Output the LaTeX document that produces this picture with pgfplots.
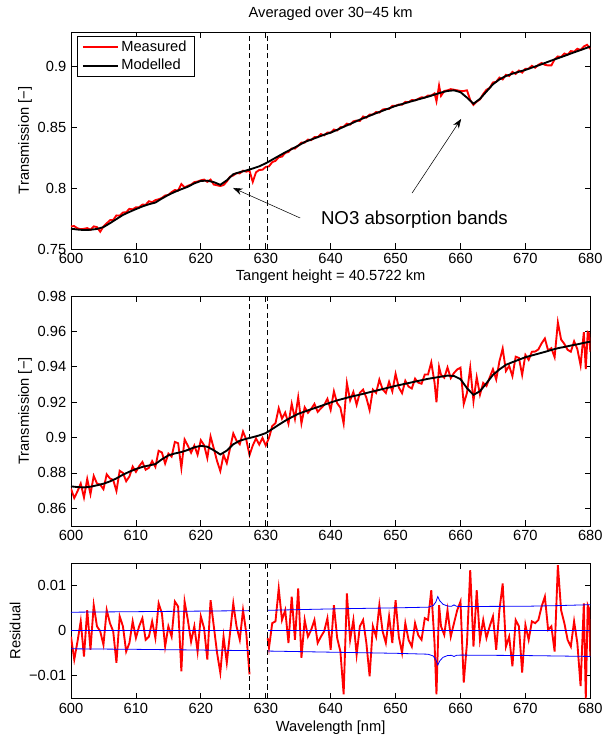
\documentclass[border=0pt]{standalone}
\usepackage{fontspec}
\setmainfont{Liberation Sans}
\usepackage{pgfplots}
\pgfplotsset{compat=1.18}
\usetikzlibrary{arrows.meta}
\newcommand\fs{\fontsize{11}{13.2}\selectfont}

\pgfplotsset{panel/.style={
  scale only axis, width=389.5pt,
  xmin=600, xmax=680, xtick={600,610,...,680},
  tick align=inside, major tick length=4.2pt,
  tick style={black, line width=0.5pt},
  axis line style={line width=0.5pt},
  tick label style={font=\fs},
  label style={font=\fs},
  /pgf/number format/assume math mode=true,
  scaled y ticks=false,
  unbounded coords=jump,
  anchor=south west,
}}

\begin{document}
\begin{tikzpicture}
\useasboundingbox (0,0) rectangle (454.5pt,552pt);

% ---------- top: averaged ----------
\begin{axis}[panel, at={(53.25pt,365.25pt)}, height=162.75pt,
  ymin=0.75, ymax=0.9285, ytick={0.75,0.8,0.85,0.9},
  yticklabel style={/pgf/number format/fixed, /pgf/number format/precision=2},
  ylabel={Transmission [−]},
  ylabel style={at={(axis description cs:-0.0886,0.5)}, anchor=center},
  legend style={at={(0.0116,0.982)}, anchor=north west, font=\fs,
    draw=black, inner xsep=3.5pt, inner ysep=1.2pt, row sep=0.6pt,
    cells={anchor=west}},
  legend image code/.code={\draw[#1] (0pt,0pt) -- (26pt,0pt);},
  legend image post style={line width=1.5pt},
]
\addplot[red, line width=1.4pt] coordinates {
(600,.7687)(600.5,.7688)(601,.7670)(601.5,.7663)(602,.7666)(602.5,.7672)(603,.7658)(603.5,.7686)
(604,.7680)(604.5,.7642)(605,.7685)(605.5,.7711)(606,.7737)(606.5,.7739)(607,.7776)(607.5,.7774)
(608,.7800)(608.5,.7803)(609,.7830)(609.5,.7826)(610,.7843)(610.5,.7844)(611,.7865)(611.5,.7864)
(612,.7893)(612.5,.7885)(613,.7902)(613.5,.7909)(614,.7920)(614.5,.7940)(615,.7945)(615.5,.7968)
(616,.7985)(616.5,.7981)(617,.8035)(617.5,.8007)(618,.8020)(618.5,.8030)(619,.8050)(619.5,.8055)
(620,.8065)(620.5,.8071)(621,.8052)(621.5,.8071)(622,.8030)(622.5,.8024)(623,.8018)(623.5,.8026)
(624,.8055)(624.5,.8095)(625,.8105)(625.5,.8124)(626,.8122)(626.5,.8144)(627,.8136)(627.5,.8144)
(628,.8052)(628.5,.8131)(629,.8150)(629.5,.8152)(630,.8175)(630.5,.8180)(631,.8215)(631.5,.8225)
(632,.8255)(632.5,.8260)(633,.8290)(633.5,.8298)(634,.8327)(634.5,.8326)(635,.8350)(635.5,.8375)
(636,.8375)(636.5,.8400)(637,.8395)(637.5,.8420)(638,.8420)(638.5,.8445)(639,.8435)(639.5,.8458)
(640,.8457)(640.5,.8483)(641,.8475)(641.5,.8502)(642,.8505)(642.5,.8531)(643,.8523)(643.5,.8550)
(644,.8557)(644.5,.8553)(645,.8590)(645.5,.8580)(646,.8606)(646.5,.8606)(647,.8627)(647.5,.8622)
(648,.8647)(648.5,.8652)(649,.8652)(649.5,.8677)(650,.8677)(650.5,.8689)(651,.8687)(651.5,.8710)
(652,.8708)(652.5,.8725)(653,.8723)(653.5,.8735)(654,.8748)(654.5,.8745)(655,.8763)(655.5,.8762)
(656,.8780)(656.3,.8715)(656.7,.8845)(657,.8760)(657.5,.8800)(658,.8805)(658.5,.8815)(659,.8810)
(659.5,.8805)(660,.8800)(660.5,.8800)(661,.8805)(661.5,.8725)(662,.8685)(662.5,.8712)(663,.8730)
(663.5,.8775)(664,.8810)(664.5,.8825)(665,.8870)(665.5,.8875)(666,.8910)(666.5,.8895)(667,.8933)
(667.5,.8923)(668,.8957)(668.5,.8940)(669,.8968)(669.5,.8951)(670,.8983)(670.5,.8983)(671,.9007)
(671.5,.8991)(672,.9015)(672.5,.9030)(673,.9015)(673.5,.9010)(674,.9010)(674.5,.9060)(675,.9084)
(675.5,.9079)(676,.9108)(676.5,.9098)(677,.9128)(677.5,.9123)(678,.9147)(678.5,.9137)(679,.9166)
(679.5,.9180)(680,.9145)
};
\addlegendentry{Measured}
\addplot[black, line width=1.4pt] coordinates {
(600,.7667)(601,.7660)(602,.7656)(603,.7658)(604,.7665)(605,.7680)(606,.7712)(607,.7746)
(608,.7780)(609,.7805)(610,.7828)(611,.7850)(612,.7868)(613,.7882)(614,.7915)(615,.7945)
(616,.7970)(617,.7992)(618,.8012)(619,.8040)(620,.8060)(621,.8062)(622,.8050)(623,.8028)
(624,.8065)(625,.8115)(626,.8132)(627,.8146)(628,.8162)(629,.8180)(630,.8205)(631,.8235)
(632,.8265)(633,.8295)(634,.8322)(635,.8350)(636,.8380)(637,.8400)(638,.8420)(639,.8440)
(640,.8457)(641,.8480)(642,.8505)(643,.8528)(644,.8552)(645,.8575)(646,.8596)(647,.8617)
(648,.8637)(649,.8657)(650,.8677)(651,.8692)(652,.8708)(653,.8723)(654,.8738)(655,.8753)
(656,.8770)(657,.8787)(658,.8800)(659,.8805)(660,.8790)(661,.8745)(662,.8695)(663,.8735)
(664,.8795)(665,.8855)(666,.8895)(667,.8923)(668,.8942)(669,.8958)(670,.8973)(671,.8992)
(672,.9010)(673,.9030)(674,.9050)(675,.9069)(676,.9088)(677,.9108)(678,.9127)(679,.9146)
(680,.9165)
};
\addlegendentry{Modelled}
\addplot[black, line width=0.5pt, dash pattern=on 4pt off 2.5pt, forget plot] coordinates {(627.5,0.75)(627.5,0.9285)};
\addplot[black, line width=0.5pt, dash pattern=on 4pt off 2.5pt, forget plot] coordinates {(630.3,0.75)(630.3,0.9285)};
\draw[-{Stealth[length=7pt,width=5pt]}, line width=0.4pt] (axis cs:635.3,0.7755) -- (axis cs:624.97,0.8002);
\draw[-{Stealth[length=7pt,width=5pt]}, line width=0.4pt] (axis cs:652.54,0.796) -- (axis cs:660.1,0.857);
\node[font=\fontsize{14}{16}\selectfont] at (axis cs:652.9,0.7738) {NO3 absorption bands};
\end{axis}

% ---------- middle: single tangent height ----------
\begin{axis}[panel, at={(53.25pt,157.5pt)}, height=172.5pt,
  ymin=0.85, ymax=0.98, ytick={0.86,0.88,...,0.98},
  yticklabel style={/pgf/number format/fixed, /pgf/number format/precision=2},
  ylabel={Transmission [−]},
  ylabel style={at={(axis description cs:-0.0886,0.5)}, anchor=center},
]
\addplot[red, line width=1.4pt] coordinates {
(600,.8711)(600.5,.8658)(601,.8696)(601.5,.8740)(602,.8661)(602.5,.8766)(603,.8680)(603.5,.8783)
(604,.8740)(604.5,.8734)(605,.8708)(605.5,.8792)(606,.8769)(606.5,.8760)(607,.8698)(607.5,.8812)
(608,.8800)(608.5,.8753)(609,.8780)(609.5,.8836)(610,.8806)(610.5,.8838)(611,.8862)(611.5,.8818)
(612,.8829)(612.5,.8867)(613,.8834)(613.5,.8925)(614,.8916)(614.5,.8853)(615,.8909)(615.5,.8892)
(616,.8975)(616.5,.8968)(617,.8828)(617.5,.8989)(618,.8954)(618.5,.8914)(619,.8955)(619.5,.8903)
(620,.8985)(620.5,.8957)(621,.8884)(621.5,.9006)(622,.8938)(622.5,.8867)(623,.8811)(623.5,.8902)
(624,.8855)(624.5,.8939)(625,.9023)(625.5,.8982)(626,.8962)(626.5,.9034)(627,.8988)(627.5,.8901)
(628,.8955)(628.5,.8995)(629,.8960)(629.5,.8998)(630,.8955)(630.5,.8998)(631,.9065)(631.5,.9081)
(632,.9166)(632.5,.9107)(633,.9141)(633.5,.9078)(634,.9191)(634.5,.9105)(635,.9228)(635.5,.9080)
(636,.9171)(636.5,.9140)(637,.9162)(637.5,.9190)(638,.9145)(638.5,.9165)(639,.9184)(639.5,.9219)
(640,.9156)(640.5,.9261)(641,.9194)(641.5,.9169)(642,.9079)(642.5,.9308)(643,.9210)(643.5,.9258)
(644,.9185)(644.5,.9253)(645,.9271)(645.5,.9225)(646,.9155)(646.5,.9271)(647,.9252)(647.5,.9327)
(648,.9273)(648.5,.9252)(649,.9315)(649.5,.9261)(650,.9360)(650.5,.9283)(651,.9251)(651.5,.9321)
(652,.9288)(652.5,.9277)(653,.9333)(653.5,.9310)(654,.9304)(654.5,.9356)(655,.9356)(655.5,.9425)
(656,.9311)(656.3,.9199)(656.7,.9399)(657,.9354)(657.5,.9338)(658,.9396)(658.5,.9336)(659,.9365)
(659.5,.9385)(660,.9395)(660.5,.9190)(661,.9252)(661.5,.9395)(662,.9206)(662.5,.9341)(663,.9242)
(663.5,.9309)(664,.9291)(664.5,.9340)(665,.9386)(665.5,.9328)(666,.9431)(666.5,.9503)(667,.9376)
(667.5,.9405)(668,.9347)(668.5,.9457)(669,.9450)(669.5,.9354)(670,.9467)(670.5,.9439)(671,.9485)
(671.5,.9486)(672,.9498)(672.5,.9533)(673,.9560)(673.5,.9492)(674,.9505)(674.5,.9454)(675,.9651)
(675.5,.9554)(676,.9529)(676.5,.9496)(677,.9485)(677.5,.9544)(678,.9500)(678.5,.9408)(679,.9596)
(679.3,.9387)(679.6,.9596)(679.8,.9590)(680,.9485)
};
\addplot[black, line width=1.4pt] coordinates {
(600,.8724)(601,.8720)(602,.8718)(603,.8722)(604,.8730)(605,.8739)(606,.8752)(607,.8769)
(608,.8790)(609,.8807)(610,.8822)(611,.8834)(612,.8842)(613,.8850)(614,.8877)(615,.8899)
(616,.8910)(617,.8918)(618,.8930)(619,.8945)(620,.8953)(621,.8948)(622,.8928)(623,.8904)
(624,.8926)(625,.8962)(626,.8982)(627,.8993)(628,.9002)(629,.9012)(630,.9025)(631,.9048)
(632,.9072)(633,.9095)(634,.9115)(635,.9134)(636,.9147)(637,.9160)(638,.9172)(639,.9185)
(640,.9198)(641,.9210)(642,.9220)(643,.9230)(644,.9238)(645,.9247)(646,.9256)(647,.9265)
(648,.9274)(649,.9283)(650,.9292)(651,.9300)(652,.9308)(653,.9316)(654,.9324)(655,.9332)
(656,.9338)(657,.9344)(658,.9350)(659,.9348)(660,.9330)(661,.9279)(662,.9241)(663,.9262)
(664,.9307)(665,.9354)(666,.9385)(667,.9411)(668,.9426)(669,.9440)(670,.9454)(671,.9464)
(672,.9474)(673,.9484)(674,.9495)(675,.9505)(676,.9512)(677,.9520)(678,.9527)(679,.9535)
(680,.9542)
};
\addplot[black, line width=0.5pt, dash pattern=on 4pt off 2.5pt] coordinates {(627.5,0.85)(627.5,0.98)};
\addplot[black, line width=0.5pt, dash pattern=on 4pt off 2.5pt] coordinates {(630.3,0.85)(630.3,0.98)};
\end{axis}

% ---------- bottom: residual ----------
\begin{axis}[panel, at={(53.25pt,28.275pt)}, height=101.25pt,
  ymin=-0.015, ymax=0.015, ytick={-0.01,0,0.01},
  yticklabels={−0.01,0,0.01},
  ylabel={Residual},
  ylabel style={at={(axis description cs:-0.1078,0.5)}, anchor=center},
]
\addplot[red, line width=1.4pt] coordinates {
(600,-.0013)(600.5,-.0064)(601,-.0024)(601.5,.0021)(602,-.0057)(602.5,.0046)(603,-.0042)(603.5,.0057)
(604,.0010)(604.5,-.0001)(605,-.0031)(605.5,.0046)(606,.0017)(606.5,-.0001)(607,-.0071)(607.5,.0032)
(608,.0010)(608.5,-.0046)(609,-.0027)(609.5,.0021)(610,-.0016)(610.5,.0010)(611,.0028)(611.5,-.0020)
(612,-.0013)(612.5,.0021)(613,-.0016)(613.5,.0061)(614,.0039)(614.5,-.0035)(615,.0010)(615.5,-.0013)
(616,.0065)(616.5,.0054)(617,-.0090)(617.5,.0065)(618,.0024)(618.5,-.0024)(619,.0010)(619.5,-.0046)
(620,.0032)(620.5,.0006)(621,-.0064)(621.5,.0068)(622,.0010)(622.5,-.0049)(623,-.0093)(623.5,-.0013)
(624,-.0071)(624.5,-.0005)(625,.0061)(625.5,.0010)(626,-.0020)(626.5,.0046)(627,-.0005)(627.5,-.0097)
(629,nan)
(630.3,-.0016)(630.5,-.0038)(631,.0017)(631.5,.0021)(632,.0094)(632.5,.0024)(633,.0046)(633.5,-.0027)
(634,.0076)(634.5,-.0020)(635,.0094)(635.5,-.0060)(636,.0024)(636.5,-.0013)(637,.0002)(637.5,.0024)
(638,-.0027)(638.5,-.0013)(639,-.0001)(639.5,.0028)(640,-.0042)(640.5,.0057)(641,-.0016)(641.5,-.0046)
(642,-.0141)(642.5,.0083)(643,-.0020)(643.5,.0024)(644,-.0053)(644.5,.0010)(645,.0024)(645.5,-.0027)
(646,-.0101)(646.5,.0010)(647,-.0013)(647.5,.0057)(648,-.0001)(648.5,-.0027)(649,.0032)(649.5,-.0027)
(650,.0068)(650.5,-.0013)(651,-.0049)(651.5,.0017)(652,-.0020)(652.5,-.0035)(653,.0017)(653.5,-.0010)
(654,-.0020)(654.5,.0028)(655,.0024)(655.5,.0090)(656,-.0027)(656.3,-.0141)(656.7,.0057)(657,.0010)
(657.5,-.0009)(658,.0046)(658.5,-.0013)(659,.0017)(659.5,.0046)(660,.0065)(660.5,-.0115)(661,-.0027)
(661.5,.0135)(662,-.0035)(662.5,.0090)(663,-.0020)(663.5,.0024)(664,-.0016)(664.5,.0010)(665,.0032)
(665.5,-.0042)(666,.0046)(666.5,.0105)(667,-.0035)(667.5,-.0013)(668,-.0079)(668.5,.0024)(669,.0010)
(669.5,-.0093)(670,.0013)(670.5,-.0020)(671,.0021)(671.5,.0017)(672,.0024)(672.5,.0054)(673,.0076)
(673.5,.0002)(674,.0010)(674.5,-.0046)(675,.0146)(675.5,.0046)(676,.0017)(676.5,-.0020)(677,-.0035)
(677.5,.0021)(678,-.0027)(678.5,-.0123)(679,.0061)(679.3,-.0150)(679.6,.0057)(679.8,.0050)(680,-.0057)
};
\addplot[blue, line width=0.6pt] coordinates {(600,0)(627.5,0)(629,nan)(630.3,0)(680,0)};
\addplot[blue, line width=0.6pt] coordinates {
(600,.00413)(610,.00425)(620,.00438)(627.5,.00448)(629,nan)
(630.3,.00455)(640,.00486)(650,.00510)(655,.00525)(655.8,.00560)(656.2,.00640)(656.5,.00760)
(656.8,.00670)(657.3,.00590)(658,.00550)(658.6,.00545)(659,.00575)(659.4,.00545)(660,.00540)
(670,.00545)(675,.00560)(680,.00580)
};
\addplot[blue, line width=0.6pt] coordinates {
(600,-.00400)(610,-.00412)(620,-.00428)(627.5,-.00440)(629,nan)
(630.3,-.00450)(640,-.00475)(650,-.00500)(655,-.00520)(655.8,-.00560)(656.2,-.00640)(656.5,-.00760)
(656.8,-.00670)(657.3,-.00590)(658,-.00550)(658.6,-.00545)(659,-.00570)(659.4,-.00545)(660,-.00540)
(670,-.00550)(675,-.00560)(680,-.00570)
};
\addplot[black, line width=0.5pt, dash pattern=on 4pt off 2.5pt] coordinates {(627.5,-0.015)(627.5,0.015)};
\addplot[black, line width=0.5pt, dash pattern=on 4pt off 2.5pt] coordinates {(630.3,-0.015)(630.3,0.015)};
\end{axis}

\node[font=\fs] at (248pt,541.5pt) {Averaged over 30−45 km};
\node[font=\fs] at (248pt,344.25pt) {Tangent height = 40.5722 km};
\node[font=\fs] at (248pt,6pt) {Wavelength [nm]};
\end{tikzpicture}
\end{document}
